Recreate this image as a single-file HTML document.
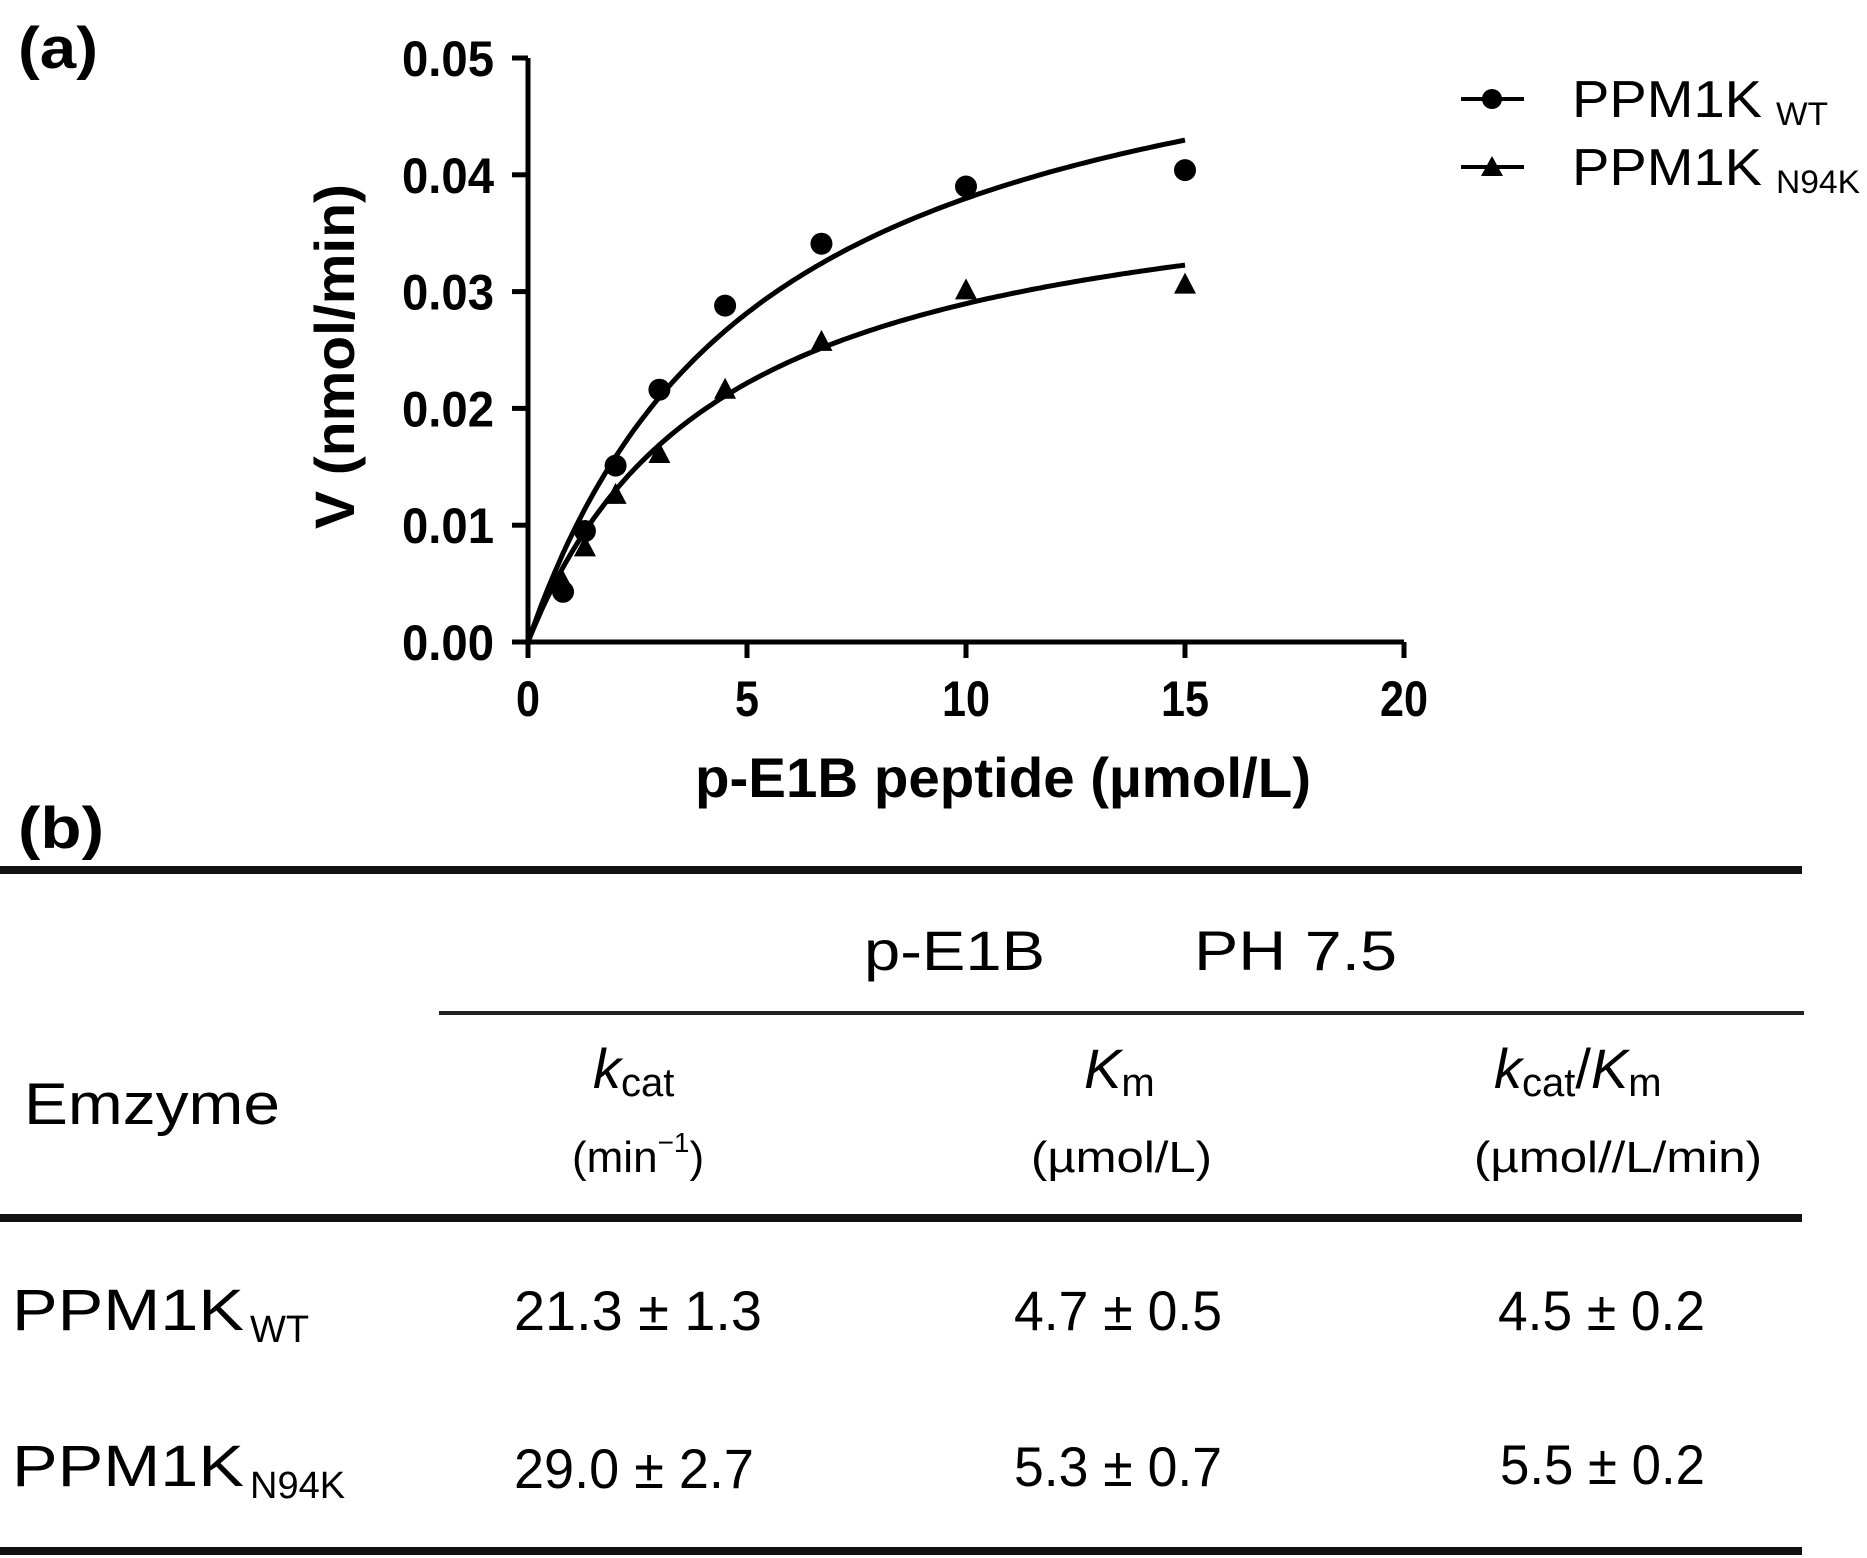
<!DOCTYPE html>
<html><head><meta charset="utf-8"><style>
html,body{margin:0;padding:0;background:#fff;}
svg{display:block;font-family:"Liberation Sans",Arial,sans-serif;}
</style></head><body>
<svg id="fig" width="1867" height="1558" viewBox="0 0 1867 1558">
<text x="18" y="68" font-size="58" font-weight="bold" textLength="80" lengthAdjust="spacingAndGlyphs">(a)</text>
<g id="chart"></g>
<g>
 <g>
  <line x1="1461" y1="99" x2="1524" y2="99" stroke="#000" stroke-width="4"/>
  <circle cx="1492" cy="99" r="10" fill="#000"/>
  <text x="1572" y="117" font-size="52"><tspan textLength="190" lengthAdjust="spacingAndGlyphs">PPM1K</tspan><tspan font-size="32" dx="14" dy="8" textLength="52" lengthAdjust="spacingAndGlyphs">WT</tspan></text>
 </g>
 <g>
  <line x1="1461" y1="167" x2="1524" y2="167" stroke="#000" stroke-width="4"/>
  <polygon points="1492,156 1503,176 1481,176" fill="#000"/>
  <text x="1572" y="185" font-size="52"><tspan textLength="190" lengthAdjust="spacingAndGlyphs">PPM1K</tspan><tspan font-size="32" dx="14" dy="8" textLength="84" lengthAdjust="spacingAndGlyphs">N94K</tspan></text>
 </g>
</g>
<text x="18" y="848" font-size="58" font-weight="bold" textLength="86" lengthAdjust="spacingAndGlyphs">(b)</text>
<g>
 <rect x="0" y="866" width="1802" height="8" fill="#111"/>
 <rect x="439" y="1011" width="1365" height="4" fill="#222"/>
 <rect x="0" y="1214" width="1802" height="8" fill="#111"/>
 <rect x="0" y="1547" width="1802" height="8" fill="#111"/>
 <text x="864" y="970" font-size="56" textLength="181" lengthAdjust="spacingAndGlyphs">p-E1B</text>
 <text x="1194" y="970" font-size="56" textLength="203" lengthAdjust="spacingAndGlyphs">PH 7.5</text>
 <text x="24" y="1124" font-size="58" textLength="256" lengthAdjust="spacingAndGlyphs">Emzyme</text>
 <text x="593" y="1088" font-size="56"><tspan font-style="italic">k</tspan><tspan font-size="40" dy="8">cat</tspan></text>
 <text x="572" y="1172" font-size="44">(min<tspan font-size="28" dy="-20">−1</tspan><tspan dy="20">)</tspan></text>
 <text x="1084" y="1088" font-size="56"><tspan font-style="italic">K</tspan><tspan font-size="40" dy="8">m</tspan></text>
 <text x="1031" y="1172" font-size="44" textLength="181" lengthAdjust="spacingAndGlyphs">(µmol/L)</text>
 <text x="1494" y="1088" font-size="56"><tspan font-style="italic">k</tspan><tspan font-size="40" dy="8">cat</tspan><tspan dy="-8">/</tspan><tspan font-style="italic">K</tspan><tspan font-size="40" dy="8">m</tspan></text>
 <text x="1474" y="1172" font-size="44" textLength="288" lengthAdjust="spacingAndGlyphs">(µmol//L/min)</text>
 <text x="12" y="1330" font-size="58"><tspan textLength="232" lengthAdjust="spacingAndGlyphs">PPM1K</tspan><tspan font-size="38" dx="6" dy="12">WT</tspan></text>
 <text x="514" y="1330" font-size="56" textLength="248" lengthAdjust="spacingAndGlyphs">21.3 ± 1.3</text>
 <text x="1014" y="1330" font-size="56" textLength="208" lengthAdjust="spacingAndGlyphs">4.7 ± 0.5</text>
 <text x="1498" y="1330" font-size="56" textLength="207" lengthAdjust="spacingAndGlyphs">4.5 ± 0.2</text>
 <text x="12" y="1486" font-size="58"><tspan textLength="232" lengthAdjust="spacingAndGlyphs">PPM1K</tspan><tspan font-size="38" dx="6" dy="12">N94K</tspan></text>
 <text x="514" y="1488" font-size="56" textLength="240" lengthAdjust="spacingAndGlyphs">29.0 ± 2.7</text>
 <text x="1014" y="1486" font-size="56" textLength="208" lengthAdjust="spacingAndGlyphs">5.3 ± 0.7</text>
 <text x="1500" y="1484" font-size="56" textLength="205" lengthAdjust="spacingAndGlyphs">5.5 ± 0.2</text>
</g>
</svg>
<script>
const substrate = [0.8, 1.3, 2, 3, 4.5, 6.7, 10, 15];
const wtRate = [0.0043, 0.0095, 0.0151, 0.0216, 0.0288, 0.0341, 0.0390, 0.0404];
const n94kRate = [0.0051, 0.0081, 0.0126, 0.0161, 0.0216, 0.0257, 0.0301, 0.0306];
const wtFit = [0.0583, 5.35];   // Vmax, Km
const n94kFit = [0.0418, 4.43];
const xTicks = [0, 5, 10, 15, 20];
const yTicks = [0.00, 0.01, 0.02, 0.03, 0.04, 0.05];

const NS = "http://www.w3.org/2000/svg";
const g = document.getElementById('chart');
const X0 = 528, X1 = 1404, Y0 = 642, Y1 = 58;
const sx = v => X0 + (v - 0) / (20 - 0) * (X1 - X0);
const sy = v => Y0 - (v - 0) / (0.05 - 0) * (Y0 - Y1);
function mk(tag, attrs, parent) {
  const e = document.createElementNS(NS, tag);
  for (const k in attrs) e.setAttribute(k, attrs[k]);
  (parent || g).appendChild(e);
  return e;
}
const ax = mk('line', {x1: X0, y1: Y0, x2: X1, y2: Y0, stroke: '#000', 'stroke-width': 5});


const ay = mk('line', {x1: X0, y1: Y0, x2: X0, y2: Y1, stroke: '#000', 'stroke-width': 5});


xTicks.forEach(t => {
  const l = mk('line', {x1: sx(t), y1: Y0, x2: sx(t), y2: Y0 + 16, stroke: '#000', 'stroke-width': 5});
  
  
  const s = String(t);
  const tx = mk('text', {x: sx(t), y: 716, 'font-size': 50, 'font-weight': 'bold', 'text-anchor': 'middle', textLength: s.length * 24, lengthAdjust: 'spacingAndGlyphs'});
  tx.textContent = s;
  
  
});
yTicks.forEach(t => {
  const l = mk('line', {x1: X0 - 16, y1: sy(t), x2: X0, y2: sy(t), stroke: '#000', 'stroke-width': 5});
  
  
  const tx = mk('text', {x: 402, y: sy(t) + 18, 'font-size': 50, 'font-weight': 'bold', textLength: 92, lengthAdjust: 'spacingAndGlyphs'});
  tx.textContent = t.toFixed(2);
  
  
});
const xt = mk('text', {x: 695, y: 797, 'font-size': 56, 'font-weight': 'bold', textLength: 616, lengthAdjust: 'spacingAndGlyphs'});
xt.textContent = 'p-E1B peptide (µmol/L)';


const yt = mk('text', {x: -172, y: 0, 'font-size': 56, 'font-weight': 'bold', textLength: 345, lengthAdjust: 'spacingAndGlyphs', transform: 'translate(354,357) rotate(-90)'});
yt.textContent = 'V (nmol/min)';


function curve(fit, name) {
  let d = '';
  for (let i = 0; i <= 150; i++) {
    const s = 15 * i / 150;
    const v = fit[0] * s / (fit[1] + s);
    d += (i ? 'L' : 'M') + sx(s).toFixed(1) + ',' + sy(v).toFixed(1);
  }
  const p = mk('path', {d: d, fill: 'none', stroke: '#000', 'stroke-width': 5});
  
  
}
curve(wtFit, 'wt-fit-curve');
curve(n94kFit, 'n94k-fit-curve');
substrate.forEach((s, i) => {
  const c = mk('circle', {cx: sx(s), cy: sy(wtRate[i]), r: 11, fill: '#000'});
  
  
  const x = sx(s), y = sy(n94kRate[i]);
  const t = mk('polygon', {points: `${x},${y-12} ${x+11},${y+9} ${x-11},${y+9}`, fill: '#000'});
  
  
});
</script>
</body></html>
